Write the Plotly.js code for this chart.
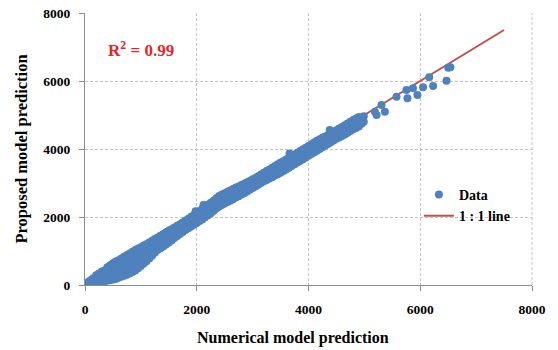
<!DOCTYPE html>
<html>
<head>
<meta charset="utf-8">
<script src="https://cdn.plot.ly/plotly-3.0.1.min.js"></script>
<style>html,body{margin:0;padding:0;background:#fff;}#chart{width:558px;height:350px;}</style>
</head>
<body>
<div id="chart"></div>
<script>
// Data points (numerical vs proposed model prediction)
var dataX = [
  10,10, 60,60, 100,100, 150,150, 200,200,200, 250,250,250, 300,300,300, 350,350,350,
  400,400,400,400, 450,450,450,450, 500,500,500,500, 550,550,550,550, 600,600,600,600,
  650,650,650,650, 700,700,700,700, 750,750,750,750, 800,800,800,800, 850,850,850,850,
  900,900,900,900, 950,950,950,950, 1000,1000,1000,1000, 1050,1050,1050,1050,
  1100,1100,1100,1100, 1150,1150,1150,1150, 1200,1200,1200,1200, 1250,1250,1250,1250,
  1300,1300,1300,1300, 1350,1350,1350,1350, 1400,1400,1400,1400, 1450,1450,1450,1450,
  1500,1500,1500,1500, 1550,1550,1550,1550, 1600,1600,1600, 1650,1650,1650,
  1700,1700,1700, 1750,1750,1750, 1800,1800,1800, 1850,1850,1850, 1900,1900,1900,
  1950,1950,1950, 2000,2000,2000, 2050,2050,2050, 2100,2100,2100, 2150,2150,2150,
  2200,2200,2200, 2250,2250,2250, 2300,2300,2300, 2350,2350,2350,
  2400,2400,2400, 2450,2450,2450, 2500,2500,2500, 2550,2550,2550, 2600,2600,2600,
  2650,2650,2650, 2700,2700,2700, 2750,2750,2750, 2800,2800,2800, 2850,2850,2850,
  2900,2900,2900, 2950,2950,2950, 3000,3000,3000, 3050,3050,3050, 3100,3100,3100,
  3150,3150,3150, 3200,3200,3200, 3250,3250,3250, 3300,3300,3300, 3350,3350,3350,
  3400,3400,3400, 3450,3450,3450, 3500,3500,3500, 3550,3550,3550, 3600,3600,3600,
  3650,3650,3650, 3700,3700,3700, 3750,3750,3750, 3800,3800,3800, 3850,3850,3850,
  3900,3900,3900, 3950,3950,3950, 4000,4000,4000, 4050,4050,4050, 4100,4100,4100,
  4150,4150,4150, 4200,4200,4200, 4250,4250,4250, 4300,4300,4300, 4350,4350,4350,
  4400,4400,4400, 4450,4450,4450, 4500,4500,4500, 4550,4550,4550, 4600,4600,4600,
  4650,4650,4650, 4700,4700,4700, 4750,4750,4750, 4800,4800,4800, 4850,4850,4850,
  4900,4900,4900, 4950,4950, 4990,4990,
  1980,2120,3480,3660,4020,4380,4600,
  5188,5218,5307,5367,5575,5753,5771,5870,5950,6050,6160,6230,6470,6500,6540
];
var dataY = [
  10,40, 20,90, 30,140, 50,200, 60,180,290, 70,200,340, 90,230,400, 100,250,430,
  130,280,430,520, 140,300,460,580, 160,320,490,640, 180,340,510,690, 210,370,540,730,
  240,400,580,780, 270,430,620,830, 300,470,660,880, 340,520,700,930, 380,560,750,980,
  430,610,800,1030, 490,670,850,1070, 560,730,900,1110, 630,790,950,1160,
  700,850,1000,1200, 780,920,1060,1250, 860,990,1120,1300, 950,1070,1190,1350,
  1030,1150,1260,1400, 1080,1200,1320,1450, 1130,1250,1370,1500, 1190,1310,1430,1550,
  1250,1370,1480,1600, 1310,1420,1530,1640, 1380,1530,1690, 1440,1590,1740,
  1500,1640,1790, 1560,1700,1840, 1620,1760,1900, 1670,1810,1950, 1720,1870,2010,
  1770,1920,2060, 1820,1970,2120, 1880,2030,2180, 1930,2090,2240, 1990,2150,2300,
  2050,2210,2360, 2110,2270,2420, 2180,2330,2480, 2250,2400,2550,
  2310,2470,2620, 2350,2510,2660, 2400,2550,2700, 2440,2590,2740, 2480,2630,2780,
  2520,2670,2820, 2570,2720,2870, 2610,2760,2900, 2660,2800,2940, 2700,2840,2980,
  2750,2890,3020, 2800,2940,3060, 2850,2990,3110, 2900,3040,3150, 2950,3090,3200,
  3000,3140,3250, 3050,3190,3300, 3090,3230,3350, 3130,3280,3400, 3170,3320,3450,
  3220,3370,3500, 3260,3410,3550, 3300,3450,3600, 3350,3500,3640, 3400,3550,3690,
  3450,3600,3740, 3500,3650,3790, 3550,3700,3840, 3600,3750,3890, 3650,3800,3940,
  3700,3850,3990, 3750,3900,4040, 3800,3950,4090, 3850,4000,4140, 3900,4050,4190,
  3950,4100,4240, 4000,4150,4290, 4050,4190,4330, 4100,4240,4370, 4150,4280,4410,
  4200,4330,4450, 4250,4380,4500, 4300,4430,4550, 4340,4470,4600, 4380,4520,4650,
  4430,4570,4700, 4480,4620,4750, 4530,4670,4800, 4580,4720,4850, 4620,4770,4900,
  4660,4810,4940, 4740,4920, 4800,4960,
  2170,2350,3380,3870,3850,4560,4420,
  5097,5000,5294,5097,5540,5735,5490,5785,5588,5815,6107,5853,6010,6390,6402
];
var lineX = [0, 7500];
var lineY = [0, 7500];
var tickVals = [0, 2000, 4000, 6000, 8000];
var tickText = ['0', '2000', '4000', '6000', '8000'];

var serif = 'Liberation Serif, Times New Roman, serif';

var traces = [
  {
    x: lineX, y: lineY, type: 'scatter', mode: 'lines', name: '1 : 1 line',
    line: {color: '#C0504D', width: 2}, legendrank: 2
  },
  {
    x: dataX, y: dataY, type: 'scatter', mode: 'markers', name: 'Data',
    marker: {symbol: 'circle', size: 8, color: '#4F81BD'}, legendrank: 1
  }
];

var axisCommon = {
  tickvals: tickVals, ticktext: tickText,
  showgrid: true, gridcolor: '#c4c4c4', griddash: '3px,2px', gridwidth: 1,
  showline: true, linecolor: '#8c8c8c', linewidth: 1,
  ticks: 'outside', ticklen: 5, tickcolor: '#8c8c8c',
  zeroline: false, fixedrange: true,
  tickfont: {family: serif, size: 13.5, color: '#000', weight: 'bold'}
};

var layout = {
  width: 558, height: 350,
  margin: {l: 85, r: 26, t: 13, b: 65},
  paper_bgcolor: '#fff', plot_bgcolor: '#fff',
  showlegend: true,
  legend: {x: 0.747, y: 0.39, xanchor: 'left', yanchor: 'top', bgcolor: 'rgba(0,0,0,0)',
           font: {family: serif, size: 14, color: '#000', weight: 'bold'}, itemwidth: 30},
  xaxis: Object.assign({}, axisCommon, {range: [0, 8000], ticklabelstandoff: 7}),
  yaxis: Object.assign({}, axisCommon, {range: [0, 8000], ticklabelstandoff: 6,
    title: {text: 'Proposed model prediction', standoff: 11,
            font: {family: serif, size: 16.5, color: '#000', weight: 'bold'}}}),
  shapes: [
    // right border of the plot frame, styled like the dashed gridlines
    {type: 'line', xref: 'x domain', yref: 'y domain', x0: 1, x1: 1, y0: 0, y1: 1,
     line: {color: '#c4c4c4', width: 1, dash: '3px,2px'}, layer: 'below'}
  ],
  annotations: [
    {x: 1000, y: 6950, xref: 'x', yref: 'y', showarrow: false,
     text: 'R<sup>2</sup> = 0.99',
     font: {family: serif, size: 17, color: '#E3262B', weight: 'bold'}},
    {x: 0.4664, y: -0.195, xref: 'paper', yref: 'paper', showarrow: false,
     xanchor: 'center', yanchor: 'middle',
     text: 'Numerical model prediction',
     font: {family: serif, size: 16, color: '#000', weight: 'bold'}}
  ]
};

Plotly.newPlot('chart', traces, layout, {staticPlot: true, displayModeBar: false});
</script>
</body>
</html>
